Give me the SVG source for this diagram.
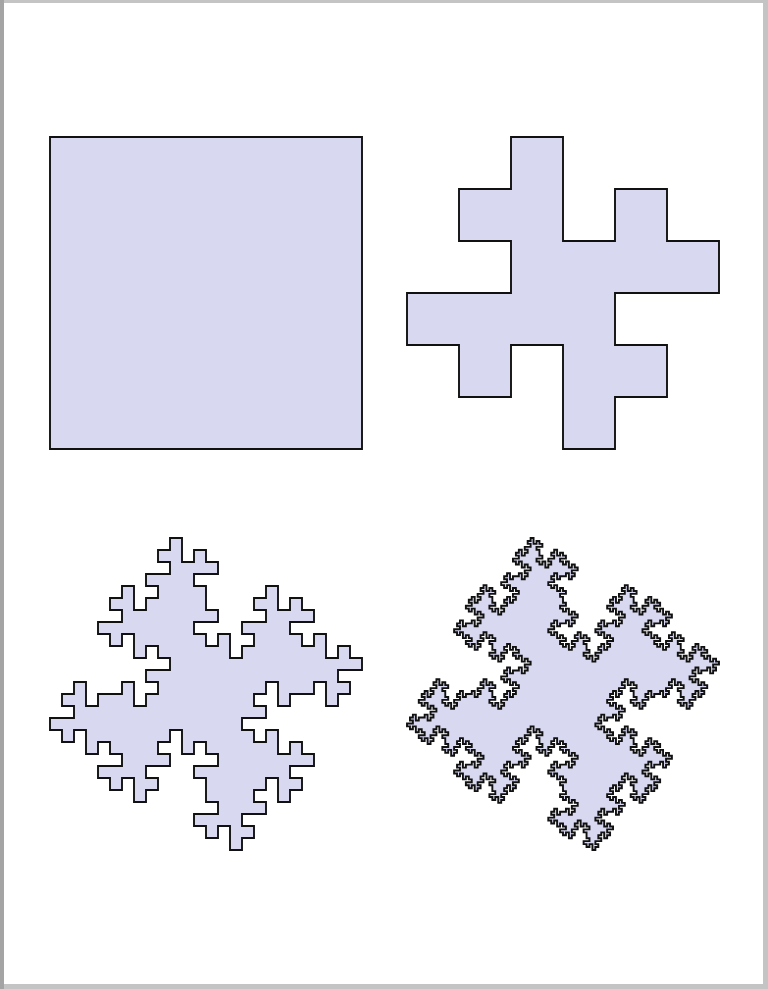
<svg xmlns="http://www.w3.org/2000/svg" width="768" height="989" viewBox="0 0 768 989">
<style>
.isl{fill:#d8d8f1;stroke:#111111;stroke-width:1.9;stroke-linejoin:miter;vector-effect:non-scaling-stroke}
</style>
<rect x="0" y="0" width="768" height="989" fill="#c4c4c4"/>
<rect x="0" y="0" width="4" height="989" fill="#a4a4a4"/>
<rect x="4" y="3" width="759" height="981" fill="#ffffff"/>
<g id="level0">
<rect class="isl" x="50" y="137" width="312" height="312"/>
</g>
<g id="level1">
<path class="isl" transform="translate(459 189) scale(52)" d="M0 0
h1v-1h1v2h1v-1h1
v1h1v1h-2v1h1v1
h-1v1h-1v-2h-1v1h-1
v-1h-1v-1h2v-1h-1v-1 z"/>
</g>
<g id="level2">
<path class="isl" transform="translate(110 598) scale(12)" d="M0 0
h1v-1h1v2h1v-1h1 v-1h-1v-1h2v-1h-1v-1 h1v-1h1v2h1v-1h1 v1h1v1h-2v1h1v1 v1h1v1h-2v1h1v1 h1v-1h1v2h1v-1h1 v-1h-1v-1h2v-1h-1v-1 h1v-1h1v2h1v-1h1
v1h1v1h-2v1h1v1 h1v-1h1v2h1v-1h1 v1h1v1h-2v1h1v1 h-1v1h-1v-2h-1v1h-1 h-1v1h-1v-2h-1v1h-1 v1h1v1h-2v1h1v1 h1v-1h1v2h1v-1h1 v1h1v1h-2v1h1v1
h-1v1h-1v-2h-1v1h-1 v1h1v1h-2v1h1v1 h-1v1h-1v-2h-1v1h-1 v-1h-1v-1h2v-1h-1v-1 v-1h-1v-1h2v-1h-1v-1 h-1v1h-1v-2h-1v1h-1 v1h1v1h-2v1h1v1 h-1v1h-1v-2h-1v1h-1
v-1h-1v-1h2v-1h-1v-1 h-1v1h-1v-2h-1v1h-1 v-1h-1v-1h2v-1h-1v-1 h1v-1h1v2h1v-1h1 h1v-1h1v2h1v-1h1 v-1h-1v-1h2v-1h-1v-1 h-1v1h-1v-2h-1v1h-1 v-1h-1v-1h2v-1h-1v-1 z"/>
</g>
<g id="level3">
<path class="isl" transform="translate(468.811 599.811) scale(2.943396)" d="M0 0
h1v-1h1v2h1v-1h1 v-1h-1v-1h2v-1h-1v-1 h1v-1h1v2h1v-1h1 v1h1v1h-2v1h1v1 v1h1v1h-2v1h1v1 h1v-1h1v2h1v-1h1 v-1h-1v-1h2v-1h-1v-1 h1v-1h1v2h1v-1h1
v-1h-1v-1h2v-1h-1v-1 h-1v1h-1v-2h-1v1h-1 v-1h-1v-1h2v-1h-1v-1 h1v-1h1v2h1v-1h1 h1v-1h1v2h1v-1h1 v-1h-1v-1h2v-1h-1v-1 h-1v1h-1v-2h-1v1h-1 v-1h-1v-1h2v-1h-1v-1
h1v-1h1v2h1v-1h1 v-1h-1v-1h2v-1h-1v-1 h1v-1h1v2h1v-1h1 v1h1v1h-2v1h1v1 v1h1v1h-2v1h1v1 h1v-1h1v2h1v-1h1 v-1h-1v-1h2v-1h-1v-1 h1v-1h1v2h1v-1h1
v1h1v1h-2v1h1v1 h1v-1h1v2h1v-1h1 v1h1v1h-2v1h1v1 h-1v1h-1v-2h-1v1h-1 h-1v1h-1v-2h-1v1h-1 v1h1v1h-2v1h1v1 h1v-1h1v2h1v-1h1 v1h1v1h-2v1h1v1
v1h1v1h-2v1h1v1 h1v-1h1v2h1v-1h1 v1h1v1h-2v1h1v1 h-1v1h-1v-2h-1v1h-1 h-1v1h-1v-2h-1v1h-1 v1h1v1h-2v1h1v1 h1v-1h1v2h1v-1h1 v1h1v1h-2v1h1v1
h1v-1h1v2h1v-1h1 v-1h-1v-1h2v-1h-1v-1 h1v-1h1v2h1v-1h1 v1h1v1h-2v1h1v1 v1h1v1h-2v1h1v1 h1v-1h1v2h1v-1h1 v-1h-1v-1h2v-1h-1v-1 h1v-1h1v2h1v-1h1
v-1h-1v-1h2v-1h-1v-1 h-1v1h-1v-2h-1v1h-1 v-1h-1v-1h2v-1h-1v-1 h1v-1h1v2h1v-1h1 h1v-1h1v2h1v-1h1 v-1h-1v-1h2v-1h-1v-1 h-1v1h-1v-2h-1v1h-1 v-1h-1v-1h2v-1h-1v-1
h1v-1h1v2h1v-1h1 v-1h-1v-1h2v-1h-1v-1 h1v-1h1v2h1v-1h1 v1h1v1h-2v1h1v1 v1h1v1h-2v1h1v1 h1v-1h1v2h1v-1h1 v-1h-1v-1h2v-1h-1v-1 h1v-1h1v2h1v-1h1

v1h1v1h-2v1h1v1 h1v-1h1v2h1v-1h1 v1h1v1h-2v1h1v1 h-1v1h-1v-2h-1v1h-1 h-1v1h-1v-2h-1v1h-1 v1h1v1h-2v1h1v1 h1v-1h1v2h1v-1h1 v1h1v1h-2v1h1v1
h1v-1h1v2h1v-1h1 v-1h-1v-1h2v-1h-1v-1 h1v-1h1v2h1v-1h1 v1h1v1h-2v1h1v1 v1h1v1h-2v1h1v1 h1v-1h1v2h1v-1h1 v-1h-1v-1h2v-1h-1v-1 h1v-1h1v2h1v-1h1
v1h1v1h-2v1h1v1 h1v-1h1v2h1v-1h1 v1h1v1h-2v1h1v1 h-1v1h-1v-2h-1v1h-1 h-1v1h-1v-2h-1v1h-1 v1h1v1h-2v1h1v1 h1v-1h1v2h1v-1h1 v1h1v1h-2v1h1v1
h-1v1h-1v-2h-1v1h-1 v1h1v1h-2v1h1v1 h-1v1h-1v-2h-1v1h-1 v-1h-1v-1h2v-1h-1v-1 v-1h-1v-1h2v-1h-1v-1 h-1v1h-1v-2h-1v1h-1 v1h1v1h-2v1h1v1 h-1v1h-1v-2h-1v1h-1
h-1v1h-1v-2h-1v1h-1 v1h1v1h-2v1h1v1 h-1v1h-1v-2h-1v1h-1 v-1h-1v-1h2v-1h-1v-1 v-1h-1v-1h2v-1h-1v-1 h-1v1h-1v-2h-1v1h-1 v1h1v1h-2v1h1v1 h-1v1h-1v-2h-1v1h-1
v1h1v1h-2v1h1v1 h1v-1h1v2h1v-1h1 v1h1v1h-2v1h1v1 h-1v1h-1v-2h-1v1h-1 h-1v1h-1v-2h-1v1h-1 v1h1v1h-2v1h1v1 h1v-1h1v2h1v-1h1 v1h1v1h-2v1h1v1
h1v-1h1v2h1v-1h1 v-1h-1v-1h2v-1h-1v-1 h1v-1h1v2h1v-1h1 v1h1v1h-2v1h1v1 v1h1v1h-2v1h1v1 h1v-1h1v2h1v-1h1 v-1h-1v-1h2v-1h-1v-1 h1v-1h1v2h1v-1h1
v1h1v1h-2v1h1v1 h1v-1h1v2h1v-1h1 v1h1v1h-2v1h1v1 h-1v1h-1v-2h-1v1h-1 h-1v1h-1v-2h-1v1h-1 v1h1v1h-2v1h1v1 h1v-1h1v2h1v-1h1 v1h1v1h-2v1h1v1

h-1v1h-1v-2h-1v1h-1 v1h1v1h-2v1h1v1 h-1v1h-1v-2h-1v1h-1 v-1h-1v-1h2v-1h-1v-1 v-1h-1v-1h2v-1h-1v-1 h-1v1h-1v-2h-1v1h-1 v1h1v1h-2v1h1v1 h-1v1h-1v-2h-1v1h-1
v1h1v1h-2v1h1v1 h1v-1h1v2h1v-1h1 v1h1v1h-2v1h1v1 h-1v1h-1v-2h-1v1h-1 h-1v1h-1v-2h-1v1h-1 v1h1v1h-2v1h1v1 h1v-1h1v2h1v-1h1 v1h1v1h-2v1h1v1
h-1v1h-1v-2h-1v1h-1 v1h1v1h-2v1h1v1 h-1v1h-1v-2h-1v1h-1 v-1h-1v-1h2v-1h-1v-1 v-1h-1v-1h2v-1h-1v-1 h-1v1h-1v-2h-1v1h-1 v1h1v1h-2v1h1v1 h-1v1h-1v-2h-1v1h-1
v-1h-1v-1h2v-1h-1v-1 h-1v1h-1v-2h-1v1h-1 v-1h-1v-1h2v-1h-1v-1 h1v-1h1v2h1v-1h1 h1v-1h1v2h1v-1h1 v-1h-1v-1h2v-1h-1v-1 h-1v1h-1v-2h-1v1h-1 v-1h-1v-1h2v-1h-1v-1
v-1h-1v-1h2v-1h-1v-1 h-1v1h-1v-2h-1v1h-1 v-1h-1v-1h2v-1h-1v-1 h1v-1h1v2h1v-1h1 h1v-1h1v2h1v-1h1 v-1h-1v-1h2v-1h-1v-1 h-1v1h-1v-2h-1v1h-1 v-1h-1v-1h2v-1h-1v-1
h-1v1h-1v-2h-1v1h-1 v1h1v1h-2v1h1v1 h-1v1h-1v-2h-1v1h-1 v-1h-1v-1h2v-1h-1v-1 v-1h-1v-1h2v-1h-1v-1 h-1v1h-1v-2h-1v1h-1 v1h1v1h-2v1h1v1 h-1v1h-1v-2h-1v1h-1
v1h1v1h-2v1h1v1 h1v-1h1v2h1v-1h1 v1h1v1h-2v1h1v1 h-1v1h-1v-2h-1v1h-1 h-1v1h-1v-2h-1v1h-1 v1h1v1h-2v1h1v1 h1v-1h1v2h1v-1h1 v1h1v1h-2v1h1v1
h-1v1h-1v-2h-1v1h-1 v1h1v1h-2v1h1v1 h-1v1h-1v-2h-1v1h-1 v-1h-1v-1h2v-1h-1v-1 v-1h-1v-1h2v-1h-1v-1 h-1v1h-1v-2h-1v1h-1 v1h1v1h-2v1h1v1 h-1v1h-1v-2h-1v1h-1

v-1h-1v-1h2v-1h-1v-1 h-1v1h-1v-2h-1v1h-1 v-1h-1v-1h2v-1h-1v-1 h1v-1h1v2h1v-1h1 h1v-1h1v2h1v-1h1 v-1h-1v-1h2v-1h-1v-1 h-1v1h-1v-2h-1v1h-1 v-1h-1v-1h2v-1h-1v-1
h-1v1h-1v-2h-1v1h-1 v1h1v1h-2v1h1v1 h-1v1h-1v-2h-1v1h-1 v-1h-1v-1h2v-1h-1v-1 v-1h-1v-1h2v-1h-1v-1 h-1v1h-1v-2h-1v1h-1 v1h1v1h-2v1h1v1 h-1v1h-1v-2h-1v1h-1
v-1h-1v-1h2v-1h-1v-1 h-1v1h-1v-2h-1v1h-1 v-1h-1v-1h2v-1h-1v-1 h1v-1h1v2h1v-1h1 h1v-1h1v2h1v-1h1 v-1h-1v-1h2v-1h-1v-1 h-1v1h-1v-2h-1v1h-1 v-1h-1v-1h2v-1h-1v-1
h1v-1h1v2h1v-1h1 v-1h-1v-1h2v-1h-1v-1 h1v-1h1v2h1v-1h1 v1h1v1h-2v1h1v1 v1h1v1h-2v1h1v1 h1v-1h1v2h1v-1h1 v-1h-1v-1h2v-1h-1v-1 h1v-1h1v2h1v-1h1
h1v-1h1v2h1v-1h1 v-1h-1v-1h2v-1h-1v-1 h1v-1h1v2h1v-1h1 v1h1v1h-2v1h1v1 v1h1v1h-2v1h1v1 h1v-1h1v2h1v-1h1 v-1h-1v-1h2v-1h-1v-1 h1v-1h1v2h1v-1h1
v-1h-1v-1h2v-1h-1v-1 h-1v1h-1v-2h-1v1h-1 v-1h-1v-1h2v-1h-1v-1 h1v-1h1v2h1v-1h1 h1v-1h1v2h1v-1h1 v-1h-1v-1h2v-1h-1v-1 h-1v1h-1v-2h-1v1h-1 v-1h-1v-1h2v-1h-1v-1
h-1v1h-1v-2h-1v1h-1 v1h1v1h-2v1h1v1 h-1v1h-1v-2h-1v1h-1 v-1h-1v-1h2v-1h-1v-1 v-1h-1v-1h2v-1h-1v-1 h-1v1h-1v-2h-1v1h-1 v1h1v1h-2v1h1v1 h-1v1h-1v-2h-1v1h-1
v-1h-1v-1h2v-1h-1v-1 h-1v1h-1v-2h-1v1h-1 v-1h-1v-1h2v-1h-1v-1 h1v-1h1v2h1v-1h1 h1v-1h1v2h1v-1h1 v-1h-1v-1h2v-1h-1v-1 h-1v1h-1v-2h-1v1h-1 v-1h-1v-1h2v-1h-1v-1 z"/>
</g>
</svg>
